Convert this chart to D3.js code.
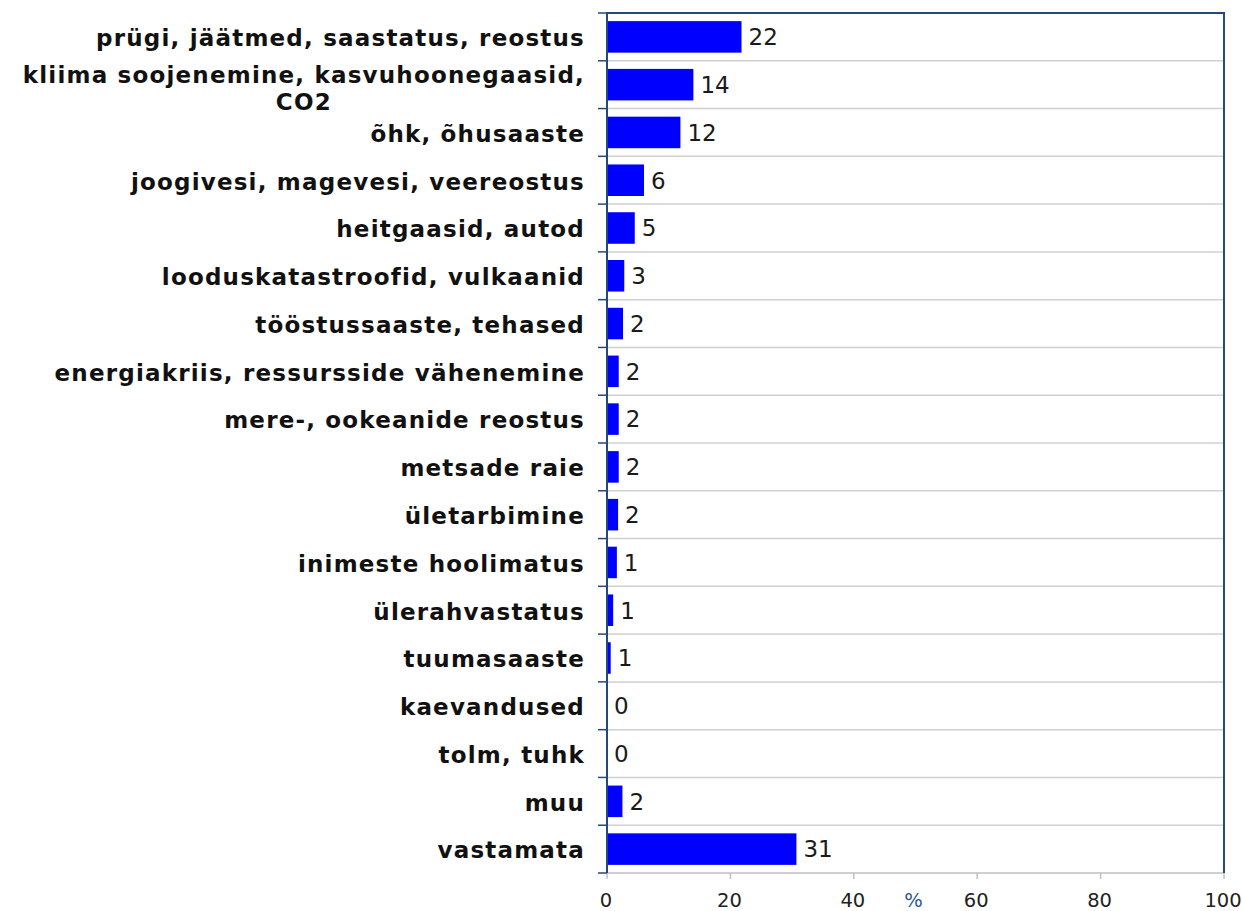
<!DOCTYPE html>
<html>
<head>
<meta charset="utf-8">
<script src="https://cdn.jsdelivr.net/npm/d3@7"></script>
<style>
  body { margin: 0; background: #fff; }
  svg { display: block; }
</style>
</head>
<body>
<div id="chart"></div>
<script>
// values (%)
const categories = [
  "prügi, jäätmed, saastatus, reostus",
  "kliima soojenemine, kasvuhoonegaasid,|CO2",
  "õhk, õhusaaste",
  "joogivesi, magevesi, veereostus",
  "heitgaasid, autod",
  "looduskatastroofid, vulkaanid",
  "tööstussaaste, tehased",
  "energiakriis, ressursside vähenemine",
  "mere-, ookeanide reostus",
  "metsade raie",
  "ületarbimine",
  "inimeste hoolimatus",
  "ülerahvastatus",
  "tuumasaaste",
  "kaevandused",
  "tolm, tuhk",
  "muu",
  "vastamata"
];
const values = [21.8, 14.0, 11.9, 6.0, 4.5, 2.8, 2.6, 1.9, 1.9, 1.9, 1.8, 1.6, 1.0, 0.6, 0.0, 0.0, 2.5, 30.7];
const valueLabels = [22, 14, 12, 6, 5, 3, 2, 2, 2, 2, 2, 1, 1, 1, 0, 0, 2, 31];
const xTicks = [0, 20, 40, 60, 80, 100];

const width = 1242, height = 911;
const margin = {top: 13, right: 18, bottom: 38, left: 607};
const frameColor = "#24497a";
const font = "DejaVu Sans, Verdana, sans-serif";

const svg = d3.select("#chart").append("svg")
  .attr("width", width)
  .attr("height", height);

const x = d3.scaleLinear().domain([0, 100]).range([margin.left, width - margin.right]);
const y = d3.scaleBand()
  .domain(categories)
  .range([margin.top, height - margin.bottom])
  .paddingInner(0.34)
  .paddingOuter(0.17);

const step = y.step();
const bandTop = (d) => y(d) - y.paddingOuter() * step;
const boundaries = d3.range(categories.length + 1).map((i) => margin.top + i * step);

// horizontal gridlines between categories
svg.append("g")
  .selectAll("line")
  .data(boundaries.slice(1, -1))
  .join("line")
  .attr("x1", x(0))
  .attr("x2", x(100))
  .attr("y1", (d) => d)
  .attr("y2", (d) => d)
  .attr("stroke", "#d0d0d0")
  .attr("stroke-width", 1.5);

// bottom axis line + ticks (gray)
const yBottom = height - margin.bottom;
svg.append("line")
  .attr("x1", x(0)).attr("x2", x(100))
  .attr("y1", yBottom).attr("y2", yBottom)
  .attr("stroke", "#c0c0c0")
  .attr("stroke-width", 1.5);

svg.append("g")
  .selectAll("line")
  .data(xTicks)
  .join("line")
  .attr("x1", (d) => x(d)).attr("x2", (d) => x(d))
  .attr("y1", yBottom).attr("y2", yBottom + 6)
  .attr("stroke", "#c0c0c0")
  .attr("stroke-width", 1.5);

svg.append("g")
  .selectAll("text")
  .data(xTicks)
  .join("text")
  .attr("x", (d) => x(d) - 1)
  .attr("y", yBottom + 34)
  .attr("text-anchor", "middle")
  .attr("font-family", font)
  .attr("font-size", 19.5)
  .attr("fill", "#222")
  .text((d) => d);

svg.append("text")
  .attr("x", (x(40) + x(60)) / 2 - 2)
  .attr("y", yBottom + 34)
  .attr("text-anchor", "middle")
  .attr("font-family", font)
  .attr("font-size", 19.5)
  .attr("fill", "#2c5a8c")
  .text("%");

// bars
svg.append("g")
  .selectAll("rect")
  .data(values)
  .join("rect")
  .attr("x", x(0))
  .attr("y", (d, i) => y(categories[i]))
  .attr("width", (d) => x(d) - x(0))
  .attr("height", y.bandwidth())
  .attr("fill", "#0000ff");

// value labels
svg.append("g")
  .selectAll("text")
  .data(values)
  .join("text")
  .attr("x", (d) => x(d) + 7)
  .attr("y", (d, i) => y(categories[i]) + y.bandwidth() / 2)
  .attr("dy", "0.36em")
  .attr("font-family", font)
  .attr("font-size", 23)
  .attr("fill", "#1a1a1a")
  .text((d, i) => valueLabels[i]);

// frame: top, right, left
svg.append("path")
  .attr("d", `M${x(0)},${yBottom}V${margin.top}H${x(100)}V${yBottom}`)
  .attr("fill", "none")
  .attr("stroke", frameColor)
  .attr("stroke-width", 2);

// left tick marks
svg.append("g")
  .selectAll("line")
  .data(boundaries)
  .join("line")
  .attr("x1", x(0) - 9).attr("x2", x(0))
  .attr("y1", (d) => d).attr("y2", (d) => d)
  .attr("stroke", frameColor)
  .attr("stroke-width", 1.5);

// category labels (spaced out a bit, like the original)
const labelX = x(0) - 22;
const catG = svg.append("g")
  .attr("font-family", font)
  .attr("font-weight", "bold")
  .attr("font-size", 23)
  .attr("letter-spacing", 1.2)
  .attr("fill", "#111");

categories.forEach((c, i) => {
  const cy = bandTop(c) + step / 2;
  const lines = c.split("|");
  if (lines.length === 1) {
    catG.append("text")
      .attr("x", labelX)
      .attr("y", cy + 1)
      .attr("dy", "0.36em")
      .attr("text-anchor", "end")
      .text(c);
  } else {
    // wrapped label: second line centred under the first
    const first = catG.append("text")
      .attr("x", labelX)
      .attr("y", cy - 10)
      .attr("dy", "0.36em")
      .attr("text-anchor", "end")
      .text(lines[0]);
    const w = first.node().getComputedTextLength();
    catG.append("text")
      .attr("x", labelX - w / 2)
      .attr("y", cy + 17)
      .attr("dy", "0.36em")
      .attr("text-anchor", "middle")
      .text(lines[1]);
  }
});
</script>
</body>
</html>
